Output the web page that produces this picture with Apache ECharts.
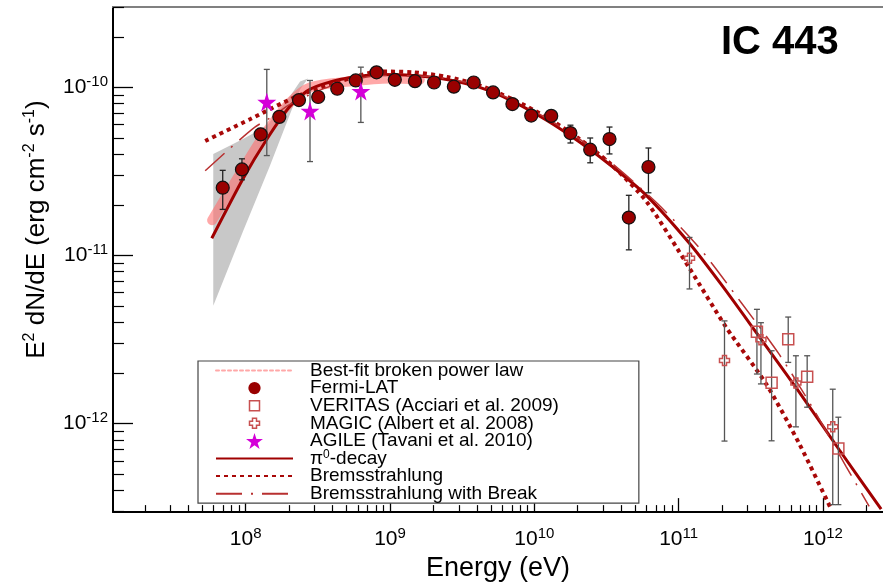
<!DOCTYPE html>
<html><head><meta charset="utf-8">
<script src="https://cdn.jsdelivr.net/npm/echarts@6/dist/echarts.min.js"></script>
<style>html,body{margin:0;padding:0;background:#fff}#c{width:883px;height:587px}</style>
</head><body><div id="c"></div>
<script>
// ---- axis ranges and tick values ----
const xMin = 1.2033e7, xMax = 2.609e12;
const yMin = 2.97e-13, yMax = 3.01e-10;
const xMajorTicks = [1e8, 1e9, 1e10, 1e11, 1e12];
const yMajorTicks = [1e-12, 1e-11, 1e-10];
const minorMultipliers = [2, 3, 4, 5, 6, 7, 8, 9];
const xDecades = [1e7, 1e8, 1e9, 1e10, 1e11, 1e12];
const yDecades = [1e-13, 1e-12, 1e-11, 1e-10];

// ---- Fermi-LAT ----
const fermiE = [6.93e7, 9.42e7, 1.27e8, 1.71e8, 2.34e8, 3.18e8, 4.31e8, 5.79e8, 8.07e8, 1.08e9, 1.49e9, 2.02e9, 2.77e9, 3.80e9, 5.18e9, 7.05e9, 9.52e9, 1.31e10, 1.78e10, 2.44e10, 3.32e10, 4.52e10, 6.18e10];
const fermiF = [2.53e-11, 3.25e-11, 5.26e-11, 6.68e-11, 8.41e-11, 8.77e-11, 9.82e-11, 1.10e-10, 1.23e-10, 1.11e-10, 1.09e-10, 1.07e-10, 1.01e-10, 1.07e-10, 9.34e-11, 7.96e-11, 6.80e-11, 6.77e-11, 5.35e-11, 4.26e-11, 4.93e-11, 1.68e-11, 3.36e-11];
const fermiLo = [1.88e-11, 2.82e-11, 4.85e-11, 6.30e-11, 8.08e-11, 8.42e-11, 9.43e-11, 1.056e-10, 1.18e-10, 1.066e-10, 1.046e-10, 1.027e-10, 9.70e-11, 1.027e-10, 8.97e-11, 7.64e-11, 6.46e-11, 6.36e-11, 4.67e-11, 3.56e-11, 4.02e-11, 1.08e-11, 2.36e-11];
const fermiHi = [3.21e-11, 3.76e-11, 5.70e-11, 7.10e-11, 8.75e-11, 9.12e-11, 1.02e-10, 1.144e-10, 1.28e-10, 1.154e-10, 1.134e-10, 1.113e-10, 1.05e-10, 1.113e-10, 9.71e-11, 8.28e-11, 7.14e-11, 7.18e-11, 5.96e-11, 5.00e-11, 5.81e-11, 2.28e-11, 4.36e-11];

// ---- VERITAS ----
const veritasE = [3.49e11, 4.41e11, 5.75e11, 7.78e11, 1.28e12];
const veritasF = [3.52e-12, 1.75e-12, 3.17e-12, 1.90e-12, 7.11e-13];
const veritasLo = [1.97e-12, 7.89e-13, 2.31e-12, 1.25e-12, 3.29e-13];
const veritasHi = [4.78e-12, 2.71e-12, 4.30e-12, 2.53e-12, 1.09e-12];

// ---- MAGIC ----
const magicE = [1.19e11, 2.08e11, 3.72e11, 6.50e11, 1.17e12];
const magicF = [9.64e-12, 2.37e-12, 3.15e-12, 1.74e-12, 9.55e-13];
const magicLo = [6.32e-12, 7.86e-13, 1.72e-12, 9.55e-13, 3.29e-13];
const magicHi = [1.28e-11, 4.08e-12, 3.98e-12, 2.53e-12, 1.60e-12];

// ---- AGILE ----
const agileE = [1.40e8, 2.79e8, 6.28e8];
const agileF = [8.19e-11, 7.25e-11, 9.51e-11];
const agileLo = [3.93e-11, 3.62e-11, 6.19e-11];
const agileHi = [1.28e-10, 1.10e-10, 1.32e-10];

// ---- model curves ----
const pi0E = [5.82e7, 9.58e7, 1.404e8, 2.026e8, 2.786e8, 4.494e8, 8.50e8, 1.438e9, 2.472e9, 4.183e9, 7.08e9, 1.217e10, 2.058e10, 3.484e10, 5.99e10, 1.188e11, 2.01e11, 3.455e11, 6.855e11, 1.297e12, 2.532e12];
const pi0F = [1.265e-11, 2.861e-11, 4.932e-11, 7.72e-11, 9.73e-11, 1.115e-10, 1.193e-10, 1.177e-10, 1.115e-10, 1.0e-10, 8.27e-11, 6.38e-11, 4.73e-11, 3.37e-11, 2.272e-11, 1.182e-11, 6.59e-12, 3.476e-12, 1.537e-12, 6.98e-13, 3.09e-13];
const bremsE = [5.24e7, 1.071e8, 2.265e8, 4.49e8, 8.50e8, 1.438e9, 2.472e9, 4.183e9, 7.08e9, 1.217e10, 2.058e10, 3.484e10, 5.99e10, 1.188e11, 2.142e11, 4.052e11, 6.855e11, 1.141e12];
const bremsF = [4.80e-11, 6.47e-11, 8.85e-11, 1.085e-10, 1.243e-10, 1.231e-10, 1.156e-10, 1.027e-10, 8.49e-11, 6.65e-11, 4.93e-11, 3.415e-11, 2.093e-11, 8.41e-12, 3.72e-12, 1.714e-12, 7.58e-13, 3.09e-13];
const breakE = [5.24e7, 7.57e7, 1.158e8, 1.545e8, 2.026e8, 3.832e8, 8.50e8, 1.886e9, 4.183e9, 7.08e9, 1.217e10, 2.058e10, 3.484e10, 7.135e10, 1.438e11, 2.72e11, 4.984e11, 8.43e11, 1.449e12, 2.092e12];
const breakF = [3.19e-11, 4.246e-11, 5.80e-11, 6.74e-11, 7.93e-11, 1.014e-10, 1.177e-10, 1.161e-10, 1.027e-10, 8.38e-11, 6.56e-11, 4.93e-11, 3.51e-11, 2.036e-11, 1.074e-11, 5.23e-12, 2.576e-12, 1.253e-12, 5.54e-13, 3.215e-13];
const bplE = [5.85e7, 9.14e7, 1.36e8, 2.03e8, 2.79e8, 5.27e8, 9.98e8, 1.61e9];
const bplF = [1.62e-11, 3.06e-11, 5.27e-11, 8.15e-11, 1.0e-10, 1.084e-10, 1.130e-10, 1.114e-10];
// grey uncertainty butterfly (outline: upper edge, then lower edge)
const bandE = [5.96e7, 9.57e7, 1.40e8, 2.03e8, 2.38e8, 2.70e8, 2.38e8, 2.09e8, 1.47e8, 9.57e7, 5.96e7];
const bandF = [4.02e-11, 4.93e-11, 5.89e-11, 8.85e-11, 1.084e-10, 1.130e-10, 9.73e-11, 7.41e-11, 3.41e-11, 1.39e-11, 5.02e-12];

const xMinorTicks = [], yMinorTicks = [];
xDecades.forEach(d => minorMultipliers.forEach(m => { const v = m * d; if (v > xMin && v < xMax) xMinorTicks.push(v); }));
yDecades.forEach(d => minorMultipliers.forEach(m => { const v = m * d; if (v > yMin && v < yMax) yMinorTicks.push(v); }));

const FONT = '"Liberation Sans", Arial, sans-serif';
const DARK = '#a00000';
const STAR = 'path://M50,0 L61,35 L98,35 L68,57 L79,91 L50,70 L21,91 L32,57 L2,35 L39,35 Z';
const PLUS = 'path://M3,0 L7,0 L7,3 L10,3 L10,7 L7,7 L7,10 L3,10 L3,7 L0,7 L0,3 L3,3 Z';

const zip = (a, b) => a.map((v, i) => [v, b[i]]);
const zip3 = (a, b, c) => a.map((v, i) => [v, b[i], c[i]]);

function errBar(color) {
  return function (params, api) {
    const x = api.value(0), lo = api.value(1), hi = api.value(2);
    const a = api.coord([x, hi]), b = api.coord([x, lo]);
    const cw = 3, st = { stroke: color, lineWidth: 1.3 };
    return { type: 'group', children: [
      { type: 'line', shape: { x1: a[0], y1: a[1], x2: b[0], y2: b[1] }, style: st },
      { type: 'line', shape: { x1: a[0] - cw, y1: a[1], x2: a[0] + cw, y2: a[1] }, style: st },
      { type: 'line', shape: { x1: b[0] - cw, y1: b[1], x2: b[0] + cw, y2: b[1] }, style: st }
    ]};
  };
}

const supRich = {
  b: { fontSize: 21, lineHeight: 27, fontFamily: FONT, color: '#000' },
  s: { fontSize: 15, lineHeight: 15, fontFamily: FONT, color: '#000', verticalAlign: 'top' }
};

const chart = echarts.init(document.getElementById('c'), null, { renderer: 'canvas' });
chart.setOption({
  animation: false,
  backgroundColor: '#fff',
  title: { text: 'IC 443', left: 721, top: 23, padding: 0,
    textStyle: { fontSize: 40, fontWeight: 'bold', fontFamily: FONT, color: '#000' } },
  grid: { left: 113, top: 7, right: 0, height: 509, show: false },
  legend: {
    left: 198, top: 361, orient: 'vertical', itemWidth: 77, itemHeight: 16, itemGap: -1.4,
    padding: [0, 80, 0, 17], borderColor: '#444', borderWidth: 1.2, backgroundColor: '#fff',
    selectedMode: false,
    textStyle: { fontSize: 19, color: '#000', fontFamily: FONT, padding: [0, 0, 0, 12],
      rich: { u: { fontSize: 12, fontFamily: FONT, color: '#000', verticalAlign: 'top', lineHeight: 12 } } },
    formatter: name => name === 'π0-decay' ? 'π{u|0}-decay' : name,
    data: [
      { name: 'Best-fit broken power law', lineStyle: { width: 2, type: [3, 3], color: '#ffa8a8', opacity: 1 }, itemStyle: { opacity: 0 } },
      { name: 'Fermi-LAT', icon: 'path://M-1.5,-1.5 M0,5 A5,5 0 1,1 10,5 A5,5 0 1,1 0,5 Z M11.5,11.5', itemStyle: { borderWidth: 0 } },
      { name: 'VERITAS (Acciari et al. 2009)', icon: 'path://M-3,-3 M0,0 L10,0 L10,10 L0,10 Z M13,13', itemStyle: { color: 'rgba(255,255,255,0)', borderColor: '#c85050', borderWidth: 1.5 } },
      { name: 'MAGIC (Albert et al. 2008)', icon: 'path://M-3,-3 M3,0 L7,0 L7,3 L10,3 L10,7 L7,7 L7,10 L3,10 L3,7 L0,7 L0,3 L3,3 Z M13,13', itemStyle: { color: 'rgba(255,255,255,0)', borderColor: '#c85050', borderWidth: 1.5 } },
      { name: 'AGILE (Tavani et al. 2010)', icon: STAR },
      { name: 'π0-decay', itemStyle: { opacity: 0 } },
      { name: 'Bremsstrahlung', itemStyle: { opacity: 0 } },
      { name: 'Bremsstrahlung with Break', itemStyle: { opacity: 0 } }
    ]
  },
  xAxis: [
    { type: 'log', logBase: 10, min: xMin, max: xMax, position: 'bottom', gridIndex: 0,
      axisLine: { show: true, lineStyle: { color: '#000', width: 2 } },
      axisTick: { show: true, inside: true, length: 14, customValues: xMajorTicks, lineStyle: { color: '#000', width: 1.3 } },
      axisLabel: { show: true, customValues: xMajorTicks, margin: 14,
        formatter: v => '{b|10}{s|' + Math.round(Math.log10(v)) + '}', rich: supRich },
      splitLine: { show: false },
      name: 'Energy (eV)', nameLocation: 'middle', nameGap: 42,
      nameTextStyle: { fontSize: 27, fontFamily: FONT, color: '#000' } },
    { type: 'log', logBase: 10, min: xMin, max: xMax, position: 'bottom', gridIndex: 0,
      axisLine: { show: false },
      axisTick: { show: true, inside: true, length: 7, customValues: xMinorTicks, lineStyle: { color: '#000', width: 1.2 } },
      axisLabel: { show: false }, splitLine: { show: false } },
    { type: 'log', logBase: 10, min: xMin, max: xMax, position: 'top', gridIndex: 0,
      axisLine: { show: true, lineStyle: { color: '#808080', width: 2 } },
      axisTick: { show: false }, axisLabel: { show: false }, splitLine: { show: false } }
  ],
  yAxis: [
    { type: 'log', logBase: 10, min: yMin, max: yMax, position: 'left', gridIndex: 0,
      axisLine: { show: true, lineStyle: { color: '#000', width: 2 } },
      axisTick: { show: true, inside: true, length: 20, customValues: yMajorTicks, lineStyle: { color: '#000', width: 1.3 } },
      axisLabel: { show: true, customValues: yMajorTicks, margin: 5,
        formatter: v => '{b|10}{s|' + Math.round(Math.log10(v)) + '}', rich: supRich },
      splitLine: { show: false },
      name: 'E{s|2} dN/dE (erg cm{s|-2} s{s|-1})', nameLocation: 'middle', nameGap: 60,
      nameTextStyle: { fontSize: 26, fontFamily: FONT, color: '#000', lineHeight: 30, padding: [0, 0, 0, 60],
        rich: { s: { fontSize: 16, fontFamily: FONT, color: '#000', verticalAlign: 'top', lineHeight: 16 } } } },
    { type: 'log', logBase: 10, min: yMin, max: yMax, position: 'left', gridIndex: 0,
      axisLine: { show: false },
      axisTick: { show: true, inside: true, length: 11, customValues: yMinorTicks, lineStyle: { color: '#000', width: 1.2 } },
      axisLabel: { show: false }, splitLine: { show: false } }
  ],
  series: [
    { type: 'custom', name: 'band', silent: true, z: 1, clip: true,
      data: zip(bandE, bandF),
      renderItem: (params, api) => {
        if (params.dataIndex !== 0) return null;
        const pts = bandE.map((e, i) => api.coord([e, bandF[i]]));
        return { type: 'polygon', shape: { points: pts }, style: { fill: '#c8c8c8' } };
      } },
    { type: 'line', name: 'Best-fit broken power law', data: zip(bplE, bplF), symbol: 'none', smooth: 0.3, z: 2,
      lineStyle: { color: 'rgba(255,110,110,0.6)', width: 10, cap: 'round' }, itemStyle: { color: '#ffa8a8' } },
    { type: 'line', name: 'π0-decay', data: zip(pi0E, pi0F), symbol: 'none', smooth: 0.25, z: 3,
      lineStyle: { color: DARK, width: 3 }, itemStyle: { color: DARK } },
    { type: 'line', name: 'Bremsstrahlung', data: zip(bremsE, bremsF), symbol: 'none', smooth: 0.25, z: 3,
      lineStyle: { color: '#a80808', width: 4, type: [4, 4] }, itemStyle: { color: '#a80808' } },
    { type: 'line', name: 'Bremsstrahlung with Break', data: zip(breakE, breakF), symbol: 'none', smooth: 0.25, z: 3,
      lineStyle: { color: '#b83030', width: 1.5, type: [26, 9, 2, 9] }, itemStyle: { color: '#b83030' } },
    { type: 'custom', name: 'errFermi', silent: true, z: 4, clip: true, data: zip3(fermiE, fermiLo, fermiHi), encode: { x: 0, y: [1, 2] }, renderItem: errBar('#222') },
    { type: 'custom', name: 'errVeritas', silent: true, z: 4, clip: true, data: zip3(veritasE, veritasLo, veritasHi), encode: { x: 0, y: [1, 2] }, renderItem: errBar('#555') },
    { type: 'custom', name: 'errMagic', silent: true, z: 4, clip: true, data: zip3(magicE, magicLo, magicHi), encode: { x: 0, y: [1, 2] }, renderItem: errBar('#555') },
    { type: 'custom', name: 'errAgile', silent: true, z: 4, clip: true, data: zip3(agileE, agileLo, agileHi), encode: { x: 0, y: [1, 2] }, renderItem: errBar('#555') },
    { type: 'scatter', name: 'Fermi-LAT', data: zip(fermiE, fermiF), symbol: 'circle', symbolSize: 13, z: 5,
      itemStyle: { color: '#990000', borderColor: '#111', borderWidth: 1.2, opacity: 1 } },
    { type: 'scatter', name: 'VERITAS (Acciari et al. 2009)', data: zip(veritasE, veritasF), symbol: 'rect', symbolSize: 11, z: 5,
      itemStyle: { color: 'rgba(255,255,255,0)', borderColor: '#c85050', borderWidth: 1.5, opacity: 1 } },
    { type: 'scatter', name: 'MAGIC (Albert et al. 2008)', data: zip(magicE, magicF), symbol: PLUS, symbolSize: 10, z: 5,
      itemStyle: { color: 'rgba(255,255,255,0)', borderColor: '#c85050', borderWidth: 1.5, opacity: 1 } },
    { type: 'scatter', name: 'AGILE (Tavani et al. 2010)', data: zip(agileE, agileF), symbol: STAR, symbolSize: 19, z: 6,
      itemStyle: { color: '#d400d8', opacity: 1 } }
  ]
});
</script>
</body></html>
